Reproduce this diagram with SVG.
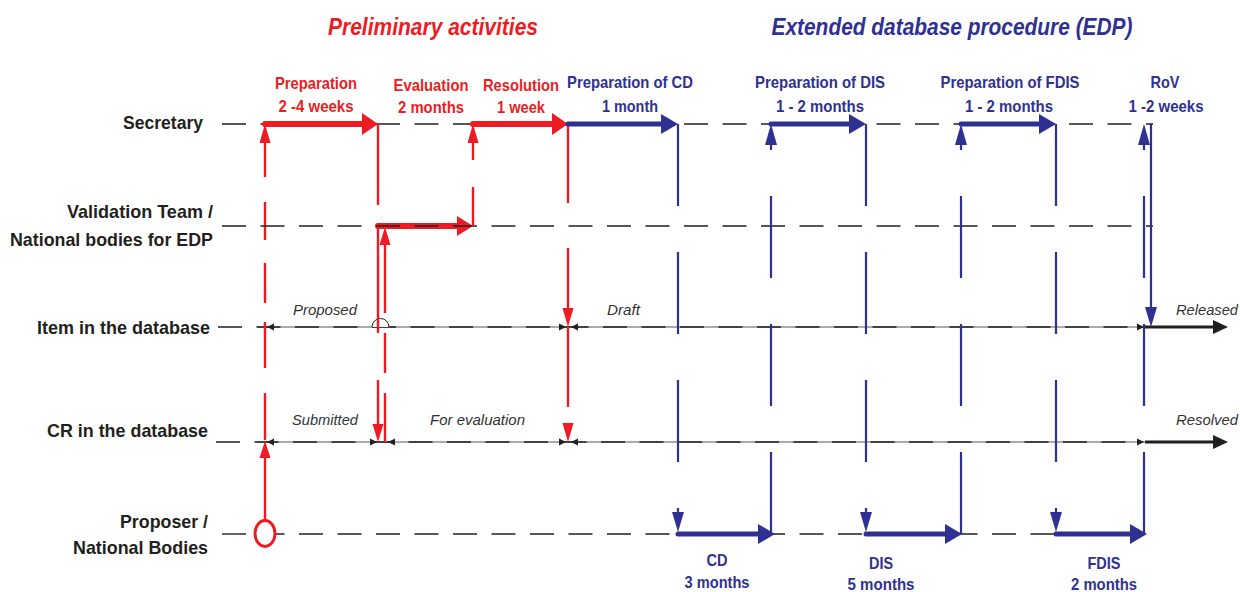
<svg xmlns="http://www.w3.org/2000/svg" width="1240" height="592" viewBox="0 0 1240 592">
<style>
.lbl{font-family:"Liberation Sans",Arial,sans-serif;font-weight:bold;font-size:19px;fill:#231F20;text-anchor:end}
.ph{font-family:"Liberation Sans",Arial,sans-serif;font-weight:bold;font-size:16.5px;text-anchor:middle}
.ttl{font-family:"Liberation Sans",Arial,sans-serif;font-weight:bold;font-style:italic;font-size:23px;text-anchor:middle}
.st{font-family:"Liberation Sans",Arial,sans-serif;font-style:italic;font-size:15px;fill:#333}
.r{fill:#ED1C24}
.b{fill:#2E3192}
.lane{stroke:#231F20;stroke-width:1.4;stroke-dasharray:24 14.5;fill:none}
.thin{stroke:#444;stroke-width:0.9;fill:none}
.rv{stroke:#ED1C24;stroke-width:2.4;fill:none}
.bv{stroke:#2E3192;stroke-width:2.2;fill:none}
.rt{stroke:#ED1C24;stroke-width:6;stroke-linecap:round;fill:none}
.bt{stroke:#2E3192;stroke-width:5;stroke-linecap:round;fill:none}
.kt{stroke:#231F20;stroke-width:3;fill:none}
.k{fill:#231F20}
</style>
<rect width="1240" height="592" fill="#fff"/>

<g id="titles">
<text class="ttl r" x="433" y="35" textLength="210" lengthAdjust="spacingAndGlyphs">Preliminary activities</text>
<text class="ttl b" x="952" y="35" textLength="361" lengthAdjust="spacingAndGlyphs">Extended database procedure (EDP)</text>
</g>

<g id="lane-secretary">
<text class="lbl" x="203" y="129" textLength="80" lengthAdjust="spacingAndGlyphs">Secretary</text>
<line class="lane" x1="222" y1="124" x2="1153" y2="124"/>
</g>
<g id="lane-validation">
<text class="lbl" x="213" y="218" textLength="146" lengthAdjust="spacingAndGlyphs">Validation Team /</text>
<text class="lbl" x="213" y="246" textLength="203" lengthAdjust="spacingAndGlyphs">National bodies for EDP</text>
</g>
<g id="lane-item">
<text class="lbl" x="210" y="334" textLength="173" lengthAdjust="spacingAndGlyphs">Item in the database</text>
<line class="thin" x1="257" y1="327" x2="1145" y2="327"/>
<line class="lane" x1="218" y1="327" x2="1143" y2="327"/>
</g>
<g id="lane-cr">
<text class="lbl" x="208" y="437" textLength="161" lengthAdjust="spacingAndGlyphs">CR in the database</text>
<line class="thin" x1="257" y1="442" x2="1145" y2="442"/>
<line class="lane" x1="216" y1="442" x2="1143" y2="442"/>
</g>
<g id="lane-proposer">
<text class="lbl" x="208" y="528" textLength="88" lengthAdjust="spacingAndGlyphs">Proposer /</text>
<text class="lbl" x="208" y="554" textLength="135" lengthAdjust="spacingAndGlyphs">National Bodies</text>
<line class="lane" x1="222" y1="534" x2="1146" y2="534"/>
</g>

<g id="phase-labels">
<text class="ph r" x="316" y="89" textLength="82" lengthAdjust="spacingAndGlyphs">Preparation</text>
<text class="ph r" x="316" y="112" textLength="75" lengthAdjust="spacingAndGlyphs">2 -4 weeks</text>
<text class="ph r" x="431" y="91" textLength="75" lengthAdjust="spacingAndGlyphs">Evaluation</text>
<text class="ph r" x="431" y="113" textLength="66" lengthAdjust="spacingAndGlyphs">2 months</text>
<text class="ph r" x="521" y="91" textLength="76" lengthAdjust="spacingAndGlyphs">Resolution</text>
<text class="ph r" x="521" y="113" textLength="48" lengthAdjust="spacingAndGlyphs">1 week</text>
<text class="ph b" x="630" y="88" textLength="126" lengthAdjust="spacingAndGlyphs">Preparation of CD</text>
<text class="ph b" x="630" y="112" textLength="56" lengthAdjust="spacingAndGlyphs">1 month</text>
<text class="ph b" x="820" y="88" textLength="130" lengthAdjust="spacingAndGlyphs">Preparation of DIS</text>
<text class="ph b" x="820" y="112" textLength="88" lengthAdjust="spacingAndGlyphs">1 - 2 months</text>
<text class="ph b" x="1010" y="88" textLength="139" lengthAdjust="spacingAndGlyphs">Preparation of FDIS</text>
<text class="ph b" x="1009" y="112" textLength="88" lengthAdjust="spacingAndGlyphs">1 - 2 months</text>
<text class="ph b" x="1165" y="88" textLength="29" lengthAdjust="spacingAndGlyphs">RoV</text>
<text class="ph b" x="1166" y="112" textLength="75" lengthAdjust="spacingAndGlyphs">1 -2 weeks</text>
<text class="ph b" x="717" y="566" textLength="21" lengthAdjust="spacingAndGlyphs">CD</text>
<text class="ph b" x="717" y="588" textLength="65" lengthAdjust="spacingAndGlyphs">3 months</text>
<text class="ph b" x="881" y="569" textLength="24" lengthAdjust="spacingAndGlyphs">DIS</text>
<text class="ph b" x="881" y="590" textLength="67" lengthAdjust="spacingAndGlyphs">5 months</text>
<text class="ph b" x="1104" y="569" textLength="33" lengthAdjust="spacingAndGlyphs">FDIS</text>
<text class="ph b" x="1104" y="590" textLength="66" lengthAdjust="spacingAndGlyphs">2 months</text>
</g>

<g id="state-labels">
<text class="st" x="293" y="315" textLength="64" lengthAdjust="spacingAndGlyphs">Proposed</text>
<text class="st" x="607" y="315" textLength="33" lengthAdjust="spacingAndGlyphs">Draft</text>
<text class="st" x="1176" y="315" textLength="62" lengthAdjust="spacingAndGlyphs">Released</text>
<text class="st" x="292" y="425" textLength="66" lengthAdjust="spacingAndGlyphs">Submitted</text>
<text class="st" x="430" y="425" textLength="95" lengthAdjust="spacingAndGlyphs">For evaluation</text>
<text class="st" x="1176" y="425" textLength="62" lengthAdjust="spacingAndGlyphs">Resolved</text>
</g>

<g id="connectors">
<!-- state arrows on Item / CR lines -->
<path d="M372,327 A8.5,8.5 0 0 1 389,327" fill="#fff" stroke="#231F20" stroke-width="1"/>
<polygon class="k" points="267,327 274,323.5 274,330.5"/>
<polygon class="k" points="566,327 559,323.5 559,330.5"/>
<polygon class="k" points="571,327 578,323.5 578,330.5"/>
<polygon class="k" points="1144,327 1137,323.5 1137,330.5"/>
<polygon class="k" points="267,442 274,438.5 274,445.5"/>
<polygon class="k" points="377,442 370,438.5 370,445.5"/>
<polygon class="k" points="388,442 395,438.5 395,445.5"/>
<polygon class="k" points="566,442 559,438.5 559,445.5"/>
<polygon class="k" points="571,442 578,438.5 578,445.5"/>
<polygon class="k" points="1144,442 1137,438.5 1137,445.5"/>
<line class="kt" x1="1145" y1="327" x2="1215" y2="327"/>
<polygon class="k" points="1213,320 1228,327 1213,334"/>
<line class="kt" x1="1145" y1="442" x2="1215" y2="442"/>
<polygon class="k" points="1213,435 1228,442 1213,449"/>

<!-- red preliminary flow -->
<ellipse cx="265" cy="533.5" rx="10" ry="13" fill="#fff" stroke="#ED1C24" stroke-width="3"/>
<line class="rv" x1="265" y1="520" x2="265" y2="455"/>
<polygon class="r" points="259.5,458 265,441 270.5,458"/>
<path class="rv" d="M265,143V177M265,202V240M265,263V303M265,322V368M265,393V440"/>
<polygon class="r" points="259.5,143 265,124 270.5,143"/>
<line class="rt" x1="265" y1="124" x2="364" y2="124"/>
<polygon class="r" points="362,113 378,124 362,135"/>
<path class="rv" d="M378,124V205M378,226V333M378,380V426"/>
<polygon class="r" points="372.5,424 378,442 383.5,424"/>
<path class="rv" d="M385,243V313M385,333V373M385,393V442"/>
<polygon class="r" points="379.5,245 385,227 390.5,245"/>
<line class="rt" x1="378" y1="226" x2="459" y2="226" stroke-width="5"/>
<polygon class="r" points="457,216 473,226 457,236"/>
<line class="lane" x1="222" y1="226" x2="1153" y2="226"/>
<path class="rv" d="M473,226V187M473,160V141"/>
<polygon class="r" points="467.5,143 473,124 478.5,143"/>
<line class="rt" x1="473" y1="124" x2="554" y2="124"/>
<polygon class="r" points="552,113 568,124 552,135"/>
<path class="rv" d="M568,124V203M568,248V310M568,327V407"/>
<polygon class="r" points="562.5,308 568,327 573.5,308"/>
<polygon class="r" points="562.5,423 568,442 573.5,423"/>

<!-- blue EDP flow -->
<line class="bt" x1="568" y1="124" x2="663" y2="124"/>
<polygon class="b" points="661,114 678,124 661,134"/>
<line class="bv" x1="678" y1="124" x2="678" y2="514" stroke-dasharray="82 46"/>
<polygon class="b" points="672,512 678,532 684,512"/>
<line class="bt" x1="678" y1="534" x2="760" y2="534"/>
<polygon class="b" points="758,524 775,534 758,544"/>
<line class="bv" x1="771" y1="534" x2="771" y2="143" stroke-dasharray="82 46"/>
<polygon class="b" points="765,145 771,124 777,145"/>
<line class="bt" x1="771" y1="124" x2="851" y2="124"/>
<polygon class="b" points="849,114 866,124 849,134"/>
<line class="bv" x1="866" y1="124" x2="866" y2="514" stroke-dasharray="82 46"/>
<polygon class="b" points="860,512 866,532 872,512"/>
<line class="bt" x1="866" y1="534" x2="947" y2="534"/>
<polygon class="b" points="945,524 962,534 945,544"/>
<line class="bv" x1="961" y1="534" x2="961" y2="143" stroke-dasharray="82 46"/>
<polygon class="b" points="955,145 961,124 967,145"/>
<line class="bt" x1="961" y1="124" x2="1041" y2="124"/>
<polygon class="b" points="1039,114 1056,124 1039,134"/>
<line class="bv" x1="1056" y1="124" x2="1056" y2="514" stroke-dasharray="82 46"/>
<polygon class="b" points="1050,512 1056,532 1062,512"/>
<line class="bt" x1="1056" y1="534" x2="1132" y2="534"/>
<polygon class="b" points="1130,524 1147,534 1130,544"/>
<line class="bv" x1="1144" y1="534" x2="1144" y2="143" stroke-dasharray="82 46"/>
<polygon class="b" points="1138,145 1144,124 1150,145"/>
<line class="bv" x1="1151" y1="124" x2="1151" y2="309"/>
<polygon class="b" points="1145,307 1151,327 1157,307"/>
</g>
</svg>
